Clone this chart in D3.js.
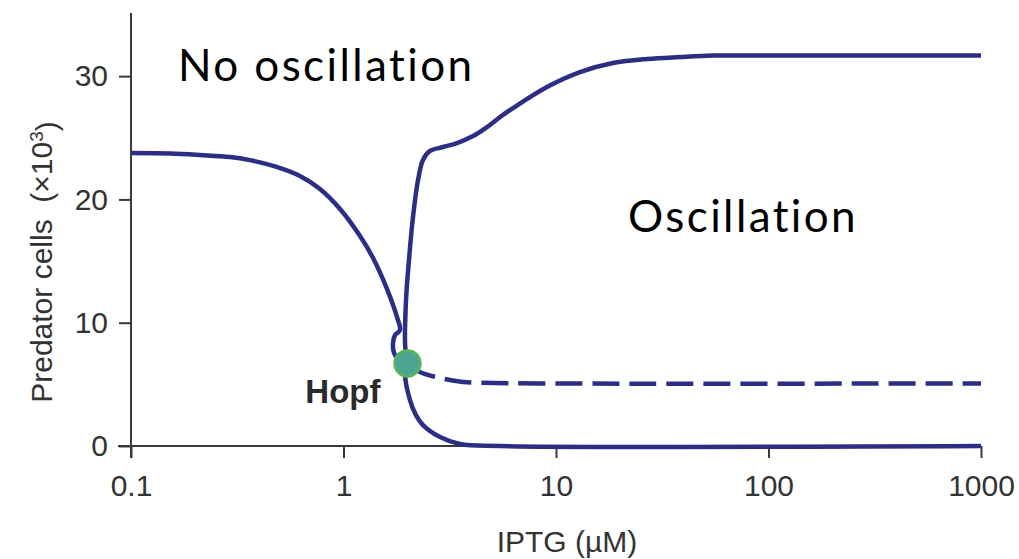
<!DOCTYPE html>
<html>
<head>
<meta charset="utf-8">
<script src="https://cdn.jsdelivr.net/npm/d3@7"></script>
<style>
  html, body { margin: 0; padding: 0; background: #fff; }
  svg { display: block; }
</style>
</head>
<body>
<svg id="chart" width="1019" height="559"></svg>
<script>
// IPTG concentration (uM) vs predator cell count (x10^3)

// Stable steady state below the Hopf point
const steadyIPTG  = [0.1, 0.153, 0.211, 0.292, 0.363, 0.476, 0.624, 0.775, 0.963, 1.196, 1.377, 1.603, 1.786, 1.845, 1.747, 1.71, 1.729, 1.825, 2.0];
const steadyCells = [23.76, 23.72, 23.6, 23.44, 23.19, 22.68, 21.9, 20.84, 19.22, 17.03, 15.25, 12.73, 10.46, 9.41, 9.0, 8.35, 7.54, 6.97, 6.7];

// Oscillation maximum above the Hopf point
const maxIPTG  = [2.0, 1.95, 1.969, 2.033, 2.123, 2.242, 2.366, 2.553, 2.939, 3.42, 4.069, 4.735, 5.45, 6.276, 9.07, 12.97, 18.55, 26.8, 38.3, 54.8, 113, 1000];
const maxCells = [6.7, 8.19, 11.84, 15.09, 18.57, 21.57, 23.2, 23.93, 24.25, 24.57, 25.14, 25.87, 26.68, 27.41, 29.12, 30.33, 31.06, 31.39, 31.55, 31.67, 31.67, 31.67];

// Oscillation minimum above the Hopf point
const minIPTG  = [2.0, 1.95, 2.055, 2.193, 2.366, 2.846, 3.533, 5.45, 1000];
const minCells = [6.7, 5.8, 3.73, 2.51, 1.7, 0.73, 0.16, 0, 0];

// Unstable steady state above the Hopf point (dashed)
const unstableIPTG  = [2.0, 2.291, 2.846, 3.651, 5.164, 8.41, 1000];
const unstableCells = [6.7, 6.0, 5.52, 5.19, 5.11, 5.07, 5.07];

// Hopf bifurcation point
const hopfIPTG = 2.0;
const hopfCells = 6.7;

const xTicks = [0.1, 1, 10, 100, 1000];
const yTicks = [0, 10, 20, 30];

const svg = d3.select("#chart");
const lineColor = "#2b2e82";
const axisColor = "#3a3a3a";
const tickFont = "'Liberation Sans', Arial, Helvetica, sans-serif";
const labelFont = "Lato, 'Open Sans', sans-serif";

const x = d3.scaleLog().domain([0.1, 1000]).range([131, 981]);
const y = d3.scaleLinear().domain([0, 35]).range([446, 14.5]);

// Axes
const xAxis = d3.axisBottom(x)
  .tickValues(xTicks)
  .tickFormat(d => String(d))
  .tickSize(12)
  .tickSizeOuter(0)
  .tickPadding(17);

const yAxis = d3.axisLeft(y)
  .tickValues(yTicks)
  .tickFormat(d3.format("d"))
  .tickSize(12)
  .tickSizeOuter(0)
  .tickPadding(11);

const gx = svg.append("g").attr("transform", "translate(0,446)").call(xAxis);
const gy = svg.append("g").attr("transform", "translate(131,0)").call(yAxis);

[gx, gy].forEach(g => {
  g.selectAll("path.domain").attr("stroke", axisColor).attr("stroke-width", 2);
  g.selectAll(".tick line").attr("stroke", axisColor).attr("stroke-width", 2);
  g.selectAll(".tick text")
    .attr("fill", "#333")
    .style("font-family", tickFont)
    .style("font-size", "30px");
});
// y axis runs down through the x tick at 0.1 and the x axis left through the y tick at 0
gy.select("path.domain").attr("d", "M0,13V458");
gx.select("path.domain").attr("d", "M" + (x(0.1) - 13) + ",0H" + x(1000));

// Axis titles
svg.append("text")
  .attr("x", 567).attr("y", 552)
  .attr("text-anchor", "middle")
  .attr("fill", "#333")
  .style("font-family", tickFont)
  .style("font-size", "30px")
  .text("IPTG (\u00b5M)");

const yTitle = svg.append("text")
  .attr("transform", "translate(52,262) rotate(-90)")
  .attr("text-anchor", "middle")
  .attr("fill", "#333")
  .style("font-family", tickFont)
  .style("font-size", "30px")
  .attr("xml:space", "preserve");
yTitle.append("tspan").text("Predator cells  (\u00d710");
yTitle.append("tspan").attr("dy", "-0.45em").style("font-size", "19px").text("3");
yTitle.append("tspan").attr("dy", "0.45em").text(")");

// Branches
const line = d3.line()
  .x(d => x(d[0]))
  .y(d => y(d[1]))
  .curve(d3.curveCatmullRom.alpha(0.5));

const zip = (a, b) => a.map((v, i) => [v, b[i]]);

const plot = svg.append("g").attr("fill", "none").attr("stroke", lineColor)
  .attr("stroke-width", 4.5).attr("stroke-linecap", "butt").attr("stroke-linejoin", "round");

plot.append("path").attr("d", line(zip(steadyIPTG, steadyCells)));
plot.append("path").attr("d", line(zip(maxIPTG, maxCells)));
plot.append("path").attr("d", line(zip(minIPTG, minCells)));
plot.append("path").attr("d", line(zip(unstableIPTG, unstableCells)))
  .attr("stroke-dasharray", "27 10")
  .attr("stroke-dashoffset", -4);

// Hopf point
svg.append("circle")
  .attr("cx", x(hopfIPTG)).attr("cy", y(hopfCells))
  .attr("r", 13)
  .attr("fill", "#4ca592")
  .attr("stroke", "#5db55a")
  .attr("stroke-width", 2.5);

svg.append("text")
  .attr("x", x(hopfIPTG) - 27).attr("y", 403)
  .attr("text-anchor", "end")
  .attr("fill", "#2a2a2a")
  .style("font-family", tickFont)
  .style("font-weight", "bold")
  .style("font-size", "33px")
  .text("Hopf");

// Region labels
const regionLabel = (px, py, txt) => svg.append("text")
  .attr("x", px).attr("y", py)
  .attr("fill", "#000")
  .style("font-family", labelFont)
  .style("font-size", "44px")
  .style("letter-spacing", "2.4px")
  .style("font-variant-ligatures", "none")
  .text(txt);

regionLabel(178, 81, "No oscillation");
regionLabel(628, 232, "Oscillation");
</script>
</body>
</html>
